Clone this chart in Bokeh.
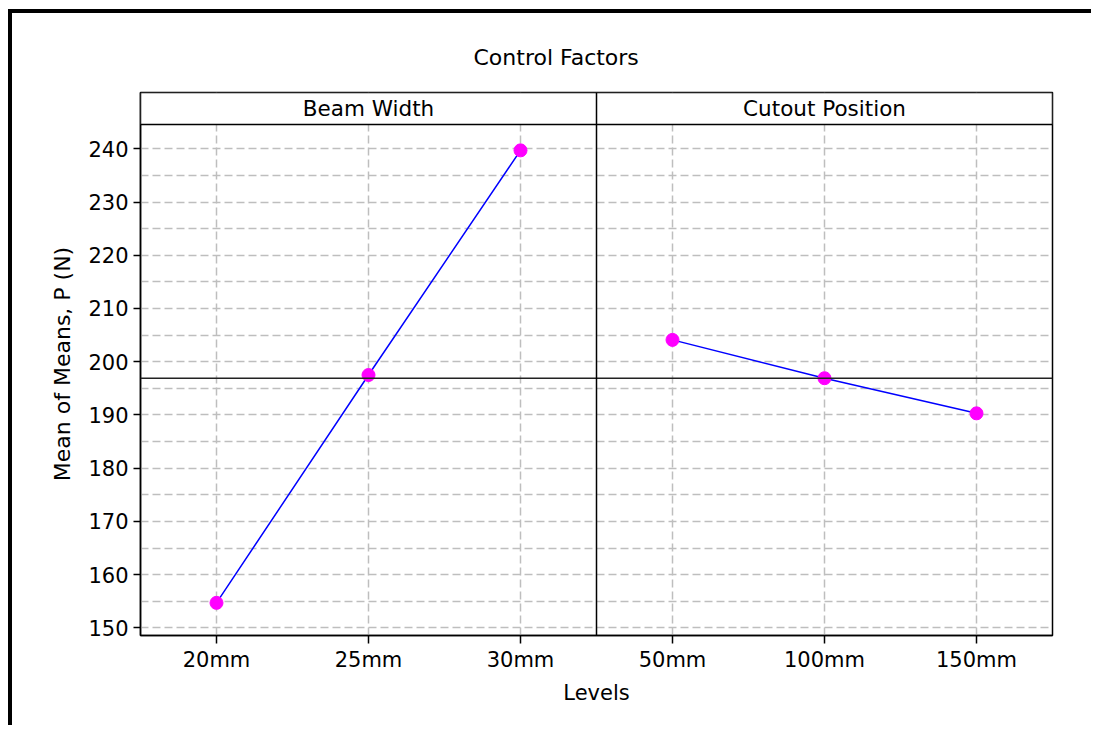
from bokeh.plotting import figure
from bokeh.models import Range1d, FixedTicker, Span, BoxAnnotation, Label, Title
from bokeh.embed import file_html
from bokeh.resources import INLINE

# ---- data ----
factors = ["Beam Width", "Cutout Position"]
beam_width_levels = ["20mm", "25mm", "30mm"]
cutout_position_levels = ["50mm", "100mm", "150mm"]
beam_width_means = [154.7, 197.5, 239.7]
cutout_position_means = [204.1, 196.9, 190.3]
overall_mean = 196.9
y_major_ticks = [150, 160, 170, 180, 190, 200, 210, 220, 230, 240]
y_minor_ticks = [155, 165, 175, 185, 195, 205, 215, 225, 235]

FONT = "DejaVu Sans"
W, H = 1083, 716
Y_LO, Y_HI = 148.57, 250.57      # frame incl. strip header
STRIP_BOTTOM = 244.56

levels = beam_width_levels + cutout_position_levels
bw_x = [i + 1 for i in range(len(beam_width_levels))]
cp_x = [len(beam_width_levels) + i + 1 for i in range(len(cutout_position_levels))]

p = figure(width=W, height=H, output_backend="svg", toolbar_location=None,
           x_range=Range1d(0.5, len(levels) + 0.5), y_range=Range1d(Y_LO, Y_HI),
           min_border_left=128, min_border_right=W - 1040, min_border_top=79,
           min_border_bottom=H - 622)
p.styles = {"border-left": "4px solid black", "border-top": "4px solid black",
            "margin-left": "8px", "margin-top": "9px"}

p.title = Title(text="Control Factors", align="left", offset=333, standoff=46,
                text_font=FONT, text_font_size="22px", text_font_style="normal",
                text_color="black")

p.outline_line_color = "black"
p.outline_line_width = 1.5
p.background_fill_color = "white"
p.border_fill_color = "white"

# axes
p.xaxis.ticker = FixedTicker(ticks=bw_x + cp_x)
p.xaxis.major_label_overrides = {x: lab for x, lab in zip(bw_x + cp_x, levels)}
p.yaxis.ticker = FixedTicker(ticks=y_major_ticks, minor_ticks=y_minor_ticks)
for ax in (p.xaxis[0], p.yaxis[0]):
    ax.axis_line_color = "black"
    ax.axis_line_width = 1.5
    ax.major_tick_line_color = "black"
    ax.major_tick_line_width = 1.5
    ax.major_tick_in = 0
    ax.minor_tick_line_color = None
    ax.major_label_text_font = FONT
    ax.major_label_text_font_size = "21px"
    ax.major_label_text_color = "black"
    ax.axis_label_text_font = FONT
    ax.axis_label_text_font_style = "normal"
    ax.axis_label_text_color = "black"
p.xaxis.axis_label = "Levels"
p.yaxis.axis_label = "Mean of Means, P (N)"
p.xaxis.axis_label_text_font_size = "21px"
p.yaxis.axis_label_text_font_size = "22px"
p.xaxis.major_tick_out = 8
p.yaxis.major_tick_out = 7
p.xaxis.major_label_standoff = 4
p.yaxis.major_label_standoff = 5
p.xaxis.axis_label_standoff = 6
p.yaxis.axis_label_standoff = 10

# grids
p.xgrid.ticker = FixedTicker(ticks=bw_x + cp_x)
p.ygrid.ticker = FixedTicker(ticks=y_major_ticks, minor_ticks=y_minor_ticks)
for g in (p.xgrid[0], p.ygrid[0]):
    g.grid_line_color = "#BEBEBE"
    g.grid_line_width = 1.5
    g.grid_line_dash = "8 4"
p.ygrid.minor_grid_line_color = "#BEBEBE"
p.ygrid.minor_grid_line_width = 1.5
p.ygrid.minor_grid_line_dash = "8 4"

# data
p.line(bw_x, beam_width_means, line_color="#0000FF", line_width=1.5)
p.line(cp_x, cutout_position_means, line_color="#0000FF", line_width=1.5)
p.scatter(bw_x + cp_x, beam_width_means + cutout_position_means, size=13,
          fill_color="#FF00FF", line_color="#FF00FF")

# strip header
p.add_layout(BoxAnnotation(bottom=STRIP_BOTTOM, fill_color="white", fill_alpha=1.0,
                           line_color="black", line_alpha=1.0, line_width=1.5))
p.add_layout(Span(location=overall_mean, dimension="width", line_color="#222222", line_width=1.5))
p.add_layout(Span(location=len(beam_width_levels) + 0.5, dimension="height",
                  line_color="black", line_width=1.5))
strip_mid = (STRIP_BOTTOM + Y_HI) / 2
centers = [sum(bw_x) / len(bw_x), sum(cp_x) / len(cp_x)]
for name, cx in zip(factors, centers):
    p.add_layout(Label(x=cx, y=strip_mid, text=name, text_align="center",
                       text_baseline="middle", text_font=FONT, text_font_size="21.5px",
                       text_color="black"))

open("out.html", "w").write(file_html(p, INLINE))
